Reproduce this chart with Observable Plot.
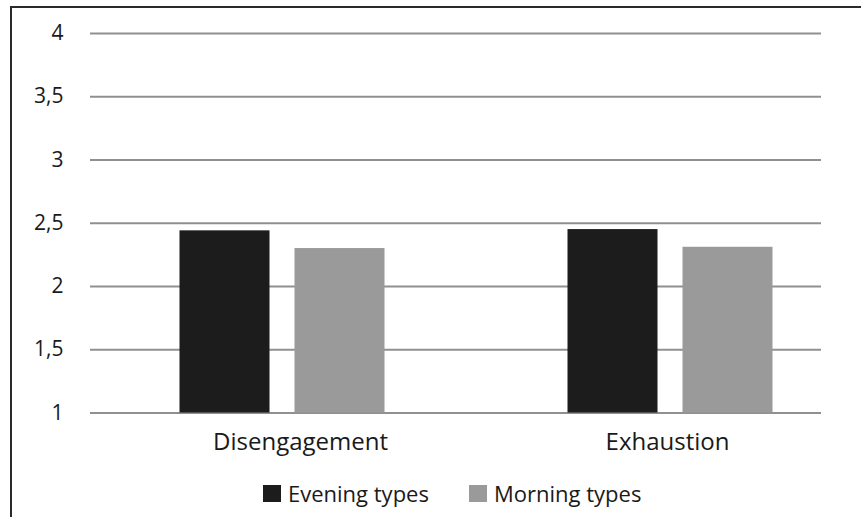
<!DOCTYPE html>
<html>
<head>
<meta charset="utf-8">
<script src="https://cdn.jsdelivr.net/npm/d3@7"></script>
<script src="https://cdn.jsdelivr.net/npm/@observablehq/plot@0.6"></script>
<style>
  html, body { margin: 0; padding: 0; background: #fff; }
  #wrap { position: relative; width: 861px; height: 517px; overflow: hidden; font-family: "Open Sans", sans-serif; }
  #frame { position: absolute; left: 10px; top: 6px; width: 900px; height: 600px; border-left: 2px solid #2a2a2a; border-top: 2px solid #2a2a2a; box-sizing: border-box; }
  #chart { position: absolute; left: 0; top: 0; }
  #legend { position: absolute; left: 0; top: 480px; width: 861px; height: 26px; font-size: 22px; color: #1a1a1a; }
  .item { position: absolute; top: 0; display: flex; align-items: center; height: 26px; }
  .sw { width: 18px; height: 17px; margin-right: 7px; }
</style>
</head>
<body>
<div id="wrap">
  <div id="frame"></div>
  <div id="chart"></div>
  <div id="legend"></div>
</div>
<script>
const categories = ["Disengagement", "Exhaustion"];
const seriesNames = ["Evening types", "Morning types"];
const seriesColors = ["#1c1c1c", "#9a9a9a"];
const eveningValues = [2.44, 2.45];
const morningValues = [2.30, 2.31];
const yTicks = [1, 1.5, 2, 2.5, 3, 3.5, 4];
const yTickLabels = ["1", "1,5", "2", "2,5", "3", "3,5", "4"];

const rows = [];
categories.forEach((c, i) => {
  rows.push({category: c, series: seriesNames[0], value: eveningValues[i]});
  rows.push({category: c, series: seriesNames[1], value: morningValues[i]});
});

const chart = Plot.plot({
  width: 861,
  height: 470,
  marginLeft: 90,
  marginRight: 40,
  marginTop: 33,
  marginBottom: 57.5,
  style: {fontFamily: "'Open Sans', sans-serif", color: "#1a1a1a", background: "transparent", overflow: "visible"},
  x: {domain: categories, range: [87.5, 863.5], padding: 0, label: null},
  y: {domain: [1, 4], label: null},
  color: {domain: seriesNames, range: seriesColors},
  marks: [
    Plot.ruleY(yTicks, {stroke: "#909090", strokeWidth: 2}),
    Plot.barY(rows.filter(d => d.series === seriesNames[0]), {x: "category", y1: 1, y2: "value", fill: "series", insetLeft: 91.5, insetRight: 206.5}),
    Plot.barY(rows.filter(d => d.series === seriesNames[1]), {x: "category", y1: 1, y2: "value", fill: "series", insetLeft: 206.5, insetRight: 91.5}),
    Plot.axisY({ticks: yTicks, tickFormat: (d) => yTickLabels[yTicks.indexOf(d)], tickSize: 0, tickPadding: 27, fontSize: 21, label: null}),
    Plot.axisX({ticks: [categories[0]], tickSize: 0, tickPadding: 20, fontSize: 24, dx: 18, label: null}),
    Plot.axisX({ticks: [categories[1]], tickSize: 0, tickPadding: 20, fontSize: 24, dx: -3, label: null})
  ]
});
document.getElementById("chart").appendChild(chart);

const legend = document.getElementById("legend");
const lefts = [263, 469];
seriesNames.forEach((s, i) => {
  const item = document.createElement("div");
  item.className = "item";
  item.style.left = lefts[i] + "px";
  const sw = document.createElement("span");
  sw.className = "sw";
  sw.style.background = seriesColors[i];
  const t = document.createElement("span");
  t.textContent = s;
  item.appendChild(sw);
  item.appendChild(t);
  legend.appendChild(item);
});
</script>
</body>
</html>
